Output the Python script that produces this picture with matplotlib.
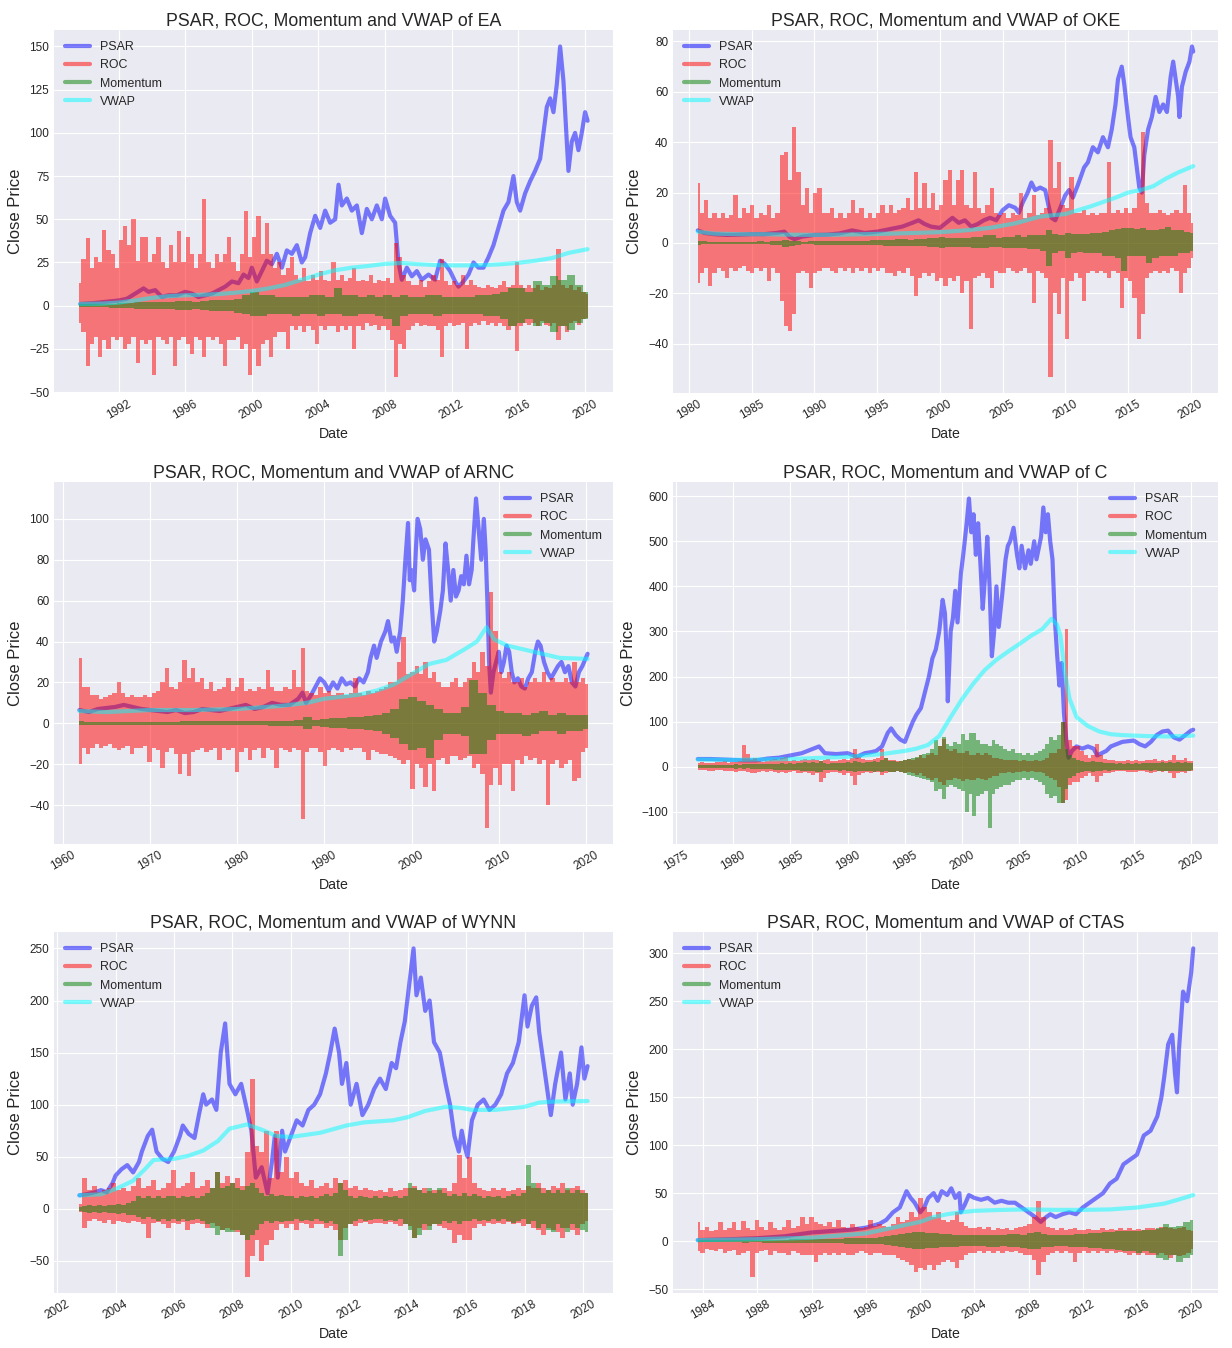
import numpy as np
import matplotlib
matplotlib.use("Agg")
import matplotlib.pyplot as plt
import matplotlib.dates as mdates
from matplotlib import font_manager as fm
from matplotlib.lines import Line2D
from datetime import datetime, timedelta

# ---------------- DATA ----------------
# PSAR / VWAP: (decimal year, value) samples.
# ROC / Momentum: the dense daily lines are stored as their upper and lower
# envelopes, sampled evenly over each ticker's date range.

# ===== EA =====
ea_range = (1989.65, 2020.15)
ea_psar_t = [1989.7, 1990.5, 1991.0, 1991.5, 1992.0, 1992.5, 1993.0, 1993.5, 1993.8, 1994.2, 1994.6, 1995.0, 1995.5, 1996.0, 1996.4, 1996.8, 1997.2, 1997.6, 1998.0, 1998.4, 1998.8, 1999.2, 1999.5, 1999.8, 2000.0, 2000.3, 2000.6, 2000.9, 2001.2, 2001.5, 2001.8, 2002.1, 2002.4, 2002.7, 2003.0, 2003.2, 2003.5, 2003.8, 2004.1, 2004.4, 2004.7, 2005.0, 2005.2, 2005.4, 2005.7, 2006.0, 2006.3, 2006.6, 2006.9, 2007.2, 2007.5, 2007.8, 2008.0, 2008.3, 2008.6, 2008.8, 2009.0, 2009.3, 2009.6, 2009.9, 2010.2, 2010.6, 2011.0, 2011.3, 2011.6, 2011.9, 2012.2, 2012.4, 2012.7, 2013.0, 2013.3, 2013.6, 2013.9, 2014.2, 2014.5, 2014.8, 2015.1, 2015.4, 2015.7, 2015.9, 2016.1, 2016.4, 2016.7, 2017.0, 2017.3, 2017.5, 2017.7, 2017.9, 2018.1, 2018.3, 2018.5, 2018.7, 2018.9, 2019.0, 2019.2, 2019.4, 2019.6, 2019.8, 2020.0, 2020.15]
ea_psar_v = [1, 1.5, 2, 2.5, 3, 4, 7, 10, 8, 9, 5, 6, 6, 8, 7, 5, 6, 7, 9, 11, 14, 13, 18, 16, 22, 14, 20, 26, 24, 30, 22, 32, 30, 35, 25, 28, 42, 52, 45, 55, 48, 50, 70, 58, 62, 55, 58, 42, 56, 50, 58, 50, 62, 52, 48, 25, 15, 22, 17, 20, 15, 18, 15, 26, 24, 20, 14, 11, 14, 18, 25, 22, 22, 28, 35, 45, 55, 60, 75, 60, 55, 65, 72, 78, 85, 100, 115, 120, 112, 128, 150, 130, 95, 78, 95, 100, 90, 100, 112, 107]
ea_vwap_t = [1989.7, 1991, 1992, 1993, 1994, 1995, 1996, 1997, 1998, 1999, 2000, 2001, 2002, 2003, 2004, 2005, 2006, 2007, 2008, 2009, 2010, 2011, 2012, 2013, 2014, 2015, 2016, 2017, 2018, 2019, 2020.15]
ea_vwap_v = [1, 1.2, 1.8, 3, 4.5, 5.5, 6, 6.3, 6.7, 7.5, 8.5, 10, 12, 15, 18, 20.5, 22, 23, 24.2, 24.7, 24, 23.5, 23.3, 23.3, 23.5, 24, 24.8, 26, 27.5, 30.5, 32.7]
ea_roc_hi = [13,
             27, 39, 22, 28, 25, 44, 32, 30, 22, 38, 46, 35, 50, 26, 40, 40, 25, 30, 40, 25,
             22, 35, 25, 43, 25, 40, 30, 22, 30, 62, 25, 22, 30, 25, 30, 40, 25, 20, 30, 55,
             28, 40, 52, 30, 48, 30, 22, 25, 18, 22, 28, 18, 15, 22, 14, 18, 15, 20, 15, 14,
             25, 15, 18, 14, 16, 22, 14, 15, 14, 18, 13, 15, 14, 16, 13, 36, 28, 18, 14, 12,
             12, 15, 11, 14, 18, 15, 27, 14, 12, 14, 12, 18, 12, 15, 12, 11, 10, 12, 11, 10,
             12, 14, 11, 12, 25, 12, 10, 12, 10, 12, 9, 11, 10, 12, 33, 12, 10, 12, 9, 11,
             8, 7]
ea_roc_lo = [-10,
             -15, -35, -22, -18, -30, -20, -25, -18, -20, -18, -25, -22, -18, -33, -20, -22, -20, -40, -18, -20,
             -22, -18, -35, -20, -18, -22, -28, -18, -20, -30, -18, -20, -18, -22, -35, -20, -20, -18, -25, -22,
             -40, -25, -35, -22, -20, -30, -18, -15, -15, -25, -12, -14, -12, -15, -12, -14, -22, -12, -14, -12,
             -12, -15, -12, -14, -12, -25, -12, -14, -10, -12, -11, -14, -12, -14, -20, -41, -22, -25, -14, -12,
             -10, -12, -11, -12, -12, -14, -30, -12, -10, -12, -11, -10, -25, -12, -10, -11, -9, -11, -10, -12,
             -10, -12, -14, -12, -26, -12, -10, -11, -10, -12, -9, -11, -12, -10, -20, -12, -15, -10, -9, -11,
             -8, -7]
ea_mom_hi = [1,
             1, 1, 1, 1.2, 1.5, 1.5, 2, 2, 2, 2, 2, 2.5, 2.5, 2, 2.5, 3, 3, 3, 4, 6,
             8, 6, 6, 5, 5, 5, 5, 6, 6, 5, 10, 6, 6, 5, 6, 5, 6, 5, 6, 5,
             5, 6, 6, 5, 5, 5, 5, 6, 6, 7, 8, 10, 10, 8, 14, 12, 17, 15, 18, 12,
             8]
ea_mom_lo = [-1,
             -1, -1, -1, -1.2, -1.5, -1.5, -2, -2, -2, -2, -2, -2.5, -2.5, -2, -2.5, -3, -3, -3, -4, -5,
             -6, -6, -5, -5, -5, -6, -5, -5, -6, -5, -5, -6, -6, -5, -5, -6, -8, -12, -6, -5,
             -5, -5, -6, -5, -5, -5, -5, -5, -6, -6, -8, -12, -10, -8, -12, -10, -15, -12, -14, -10,
             -8]

# ===== OKE =====
oke_range = (1980.7, 2020.2)
oke_psar_t = [1980.7, 1981.2, 1982, 1983, 1984, 1985, 1986, 1987, 1987.6, 1988, 1988.4, 1989, 1990, 1991, 1992, 1993, 1994, 1995, 1996, 1997, 1997.8, 1998.3, 1998.8, 1999.3, 2000, 2000.5, 2001, 2001.5, 2002, 2002.5, 2003, 2003.5, 2004, 2004.5, 2005, 2005.5, 2006, 2006.3, 2006.6, 2007, 2007.3, 2007.6, 2008, 2008.4, 2008.7, 2008.9, 2009.2, 2009.6, 2010, 2010.3, 2010.6, 2011, 2011.5, 2011.8, 2012.2, 2012.6, 2013, 2013.4, 2013.7, 2014.0, 2014.2, 2014.5, 2014.7, 2015.0, 2015.2, 2015.5, 2015.7, 2015.9, 2016.1, 2016.3, 2016.6, 2016.9, 2017.2, 2017.5, 2017.8, 2018.1, 2018.4, 2018.6, 2018.8, 2019.0, 2019.1, 2019.3, 2019.6, 2019.9, 2020.1, 2020.2]
oke_psar_v = [5, 4, 3.5, 3.2, 3.3, 3.5, 3.5, 4, 4.5, 2.5, 1.5, 2.5, 3.2, 3.3, 3.8, 5, 4, 4.5, 5.5, 6.5, 8, 9, 7.5, 6.5, 6, 8, 10, 8, 9, 6.5, 7.5, 9, 10, 9, 13, 15, 14, 12, 16, 20, 24, 21, 22, 21, 14, 10, 9, 14, 19, 21, 18, 23, 30, 32, 38, 36, 42, 38, 45, 55, 65, 70, 63, 50, 42, 38, 30, 22, 20, 35, 45, 50, 58, 52, 55, 52, 66, 72, 65, 58, 50, 62, 68, 72, 78, 76]
oke_vwap_t = [1980.7, 1982, 1984, 1986, 1988, 1990, 1992, 1994, 1996, 1998, 2000, 2002, 2004, 2006, 2008, 2010, 2012, 2014, 2015, 2016, 2017, 2018, 2019, 2020.2]
oke_vwap_v = [4.5, 3.7, 3.5, 3.5, 3.3, 3.2, 3.3, 3.5, 3.7, 4, 4.3, 5, 6, 7.8, 10.5, 11.5, 14.5, 18, 20, 21, 22.5, 25.5, 28, 30.5]
oke_roc_hi = [24,
              12, 17, 10, 12, 10, 12, 10, 11, 19, 10, 14, 12, 15, 10, 12, 11, 15, 10, 12, 35, 36,
              25, 46, 28, 15, 22, 12, 20, 22, 12, 12, 14, 10, 12, 10, 12, 17, 12, 14, 10, 12, 10,
              12, 15, 12, 15, 12, 13, 14, 18, 13, 28, 14, 24, 14, 20, 13, 15, 25, 29, 15, 25, 29,
              15, 14, 28, 14, 12, 15, 22, 12, 11, 12, 10, 12, 11, 20, 10, 12, 19, 11, 12, 14, 41,
              22, 32, 15, 14, 26, 12, 12, 13, 11, 12, 11, 12, 12, 32, 12, 13, 12, 14, 12, 14, 20,
              44, 16, 12, 12, 13, 12, 11, 12, 13, 12, 23, 12,
              8]
oke_roc_lo = [-16,
              -12, -10, -17, -12, -10, -11, -14, -10, -11, -10, -9, -11, -12, -10, -11, -10, -15, -10, -12, -23, -33,
              -35, -28, -12, -11, -12, -18, -12, -11, -10, -10, -11, -12, -10, -11, -10, -12, -10, -11, -10, -12, -10,
              -11, -10, -12, -12, -13, -11, -12, -10, -13, -21, -14, -12, -13, -12, -15, -14, -17, -14, -15, -13, -20,
              -15, -34, -14, -13, -12, -14, -18, -11, -12, -12, -10, -11, -12, -11, -10, -12, -24, -11, -12, -14, -53,
              -20, -28, -14, -38, -15, -12, -14, -23, -12, -11, -12, -11, -12, -14, -11, -12, -26, -14, -15, -22, -38,
              -28, -14, -12, -11, -12, -11, -12, -10, -11, -20, -12, -10,
              -6]
oke_mom_hi = [0.8,
              0.6, 0.5, 0.5, 0.5, 0.5, 0.4, 0.5, 0.5, 0.5, 0.6, 0.5, 0.6,
              0.8, 1.2, 0.8, 0.6,
              0.5, 0.6, 0.6, 0.7, 0.6, 0.7, 0.8, 0.7, 0.8, 0.9, 0.8, 1.0,
              1.0, 1.2, 1.2, 1.4, 1.5, 1.3, 1.6, 1.5, 1.8, 2.0, 2.5, 2.0, 2.0, 1.8, 2.0, 2.2, 2.5, 3.0,
              3, 2, 2.5, 2.5, 3, 2.5, 3, 3,
              3, 5, 3.5, 3, 4, 3.5, 3.5, 3.5, 4, 4, 4.5, 5, 5.5, 6, 6, 5.5, 6, 5, 5, 5.5, 6.5, 5, 5, 4.5,
              4]
oke_mom_lo = [-0.6,
              -0.5, -0.5, -0.4, -0.5, -0.4, -0.4, -0.5, -0.5, -0.5, -0.5, -0.5, -0.6,
              -0.8, -1.5, -1.2, -0.8,
              -0.5, -0.5, -0.6, -0.6, -0.6, -0.6, -0.7, -0.7, -0.7, -0.8, -0.8, -0.9,
              -0.8, -1.0, -1.0, -1.2, -1.2, -1.0, -1.3, -1.2, -1.5, -1.5, -1.8, -1.5, -1.5, -1.5, -1.6, -1.8, -2.0, -2.0,
              -1.5, -1.5, -2, -2, -2, -2, -2.5, -2.5,
              -3, -9, -4, -3, -6, -4, -3.5, -4, -4, -4, -5, -5, -6, -11, -5, -5, -5, -8, -6, -5, -5, -5, -4, -4,
              -3]

# ===== ARNC =====
arnc_range = (1961.9, 2020.2)
arnc_psar_t = [1961.9, 1963, 1964, 1965, 1966, 1967, 1968, 1969, 1970, 1971, 1972, 1973, 1974, 1975, 1976, 1977, 1978, 1979, 1980, 1981, 1982, 1983, 1984, 1985, 1986, 1987, 1987.5, 1987.9, 1988.5, 1989, 1989.5, 1990, 1990.5, 1991, 1991.5, 1992, 1992.5, 1993, 1993.5, 1994, 1994.5, 1995, 1995.3, 1995.7, 1996, 1996.5, 1997, 1997.3, 1997.7, 1998, 1998.3, 1998.7, 1999, 1999.3, 1999.6, 1999.8, 2000, 2000.3, 2000.5, 2000.7, 2001, 2001.3, 2001.6, 2002, 2002.3, 2002.6, 2002.9, 2003.3, 2003.6, 2003.9, 2004.2, 2004.5, 2004.8, 2005.1, 2005.4, 2005.7, 2006.0, 2006.3, 2006.6, 2006.9, 2007.1, 2007.4, 2007.7, 2008.0, 2008.3, 2008.5, 2008.7, 2008.9, 2009.1, 2009.4, 2009.7, 2010, 2010.3, 2010.6, 2010.9, 2011.2, 2011.5, 2011.8, 2012.2, 2012.6, 2013, 2013.4, 2013.8, 2014.2, 2014.5, 2014.8, 2015.2, 2015.6, 2016, 2016.4, 2016.8, 2017.2, 2017.6, 2018, 2018.4, 2018.8, 2019.2, 2019.6, 2020, 2020.2]
arnc_psar_v = [6.5, 5.5, 7, 7.5, 8, 9, 8, 7, 6.5, 6, 5.5, 6.5, 5, 5.5, 7, 6.5, 6, 7, 8, 9, 7, 8, 10, 9, 9, 12, 15, 10, 14, 18, 22, 20, 16, 20, 17, 22, 19, 20, 18, 22, 20, 25, 32, 38, 32, 40, 45, 50, 40, 42, 35, 45, 60, 80, 98, 70, 75, 65, 85, 100, 95, 80, 90, 85, 60, 40, 45, 55, 65, 88, 75, 60, 75, 62, 65, 72, 68, 82, 68, 75, 90, 110, 95, 80, 100, 85, 60, 30, 15, 25, 30, 35, 25, 30, 38, 35, 25, 20, 22, 18, 17, 22, 25, 35, 40, 38, 30, 25, 22, 25, 28, 30, 25, 28, 20, 18, 25, 28, 32, 34]
arnc_vwap_t = [1961.9, 1965, 1970, 1975, 1980, 1985, 1988, 1990, 1992, 1994, 1996, 1998, 2000, 2002, 2004, 2006, 2007.5, 2008.6, 2009.5, 2011, 2013, 2015, 2017, 2020.2]
arnc_vwap_v = [6, 5.5, 6.5, 6.5, 7, 8.5, 10, 12, 13, 14, 16, 19, 24, 29, 31, 36, 40, 47, 41, 38, 36, 34, 32, 31.5]
arnc_roc_hi = [32, 18, 18, 14, 14, 12, 13, 14, 15, 20, 15, 13, 14, 13, 13, 14, 13, 15, 16, 20,
               27, 18, 17, 20, 31, 22, 27, 20, 22, 17, 20, 16, 17, 18, 22, 16, 18, 22, 16, 17,
               16, 18, 17, 26, 18, 16, 16, 18, 17, 26, 18, 37, 16, 15, 14, 18, 15, 16, 14, 15,
               15, 14, 15, 22, 15, 14, 16, 15, 16, 17, 18, 20, 20, 30, 42, 24, 25, 28, 24, 30,
               22, 25, 20, 18, 18, 20, 22, 18, 20, 22, 30, 25, 35, 28, 64, 45, 25, 22, 25, 20,
               20, 22, 18, 20, 22, 20, 25, 20, 22, 20, 20, 22, 20, 30, 20, 22,
               19]
arnc_roc_lo = [-20, -12, -15, -12, -10, -12, -11, -10, -12, -13, -12, -11, -15, -12, -12, -11, -19, -12, -13, -22,
               -14, -12, -15, -25, -15, -26, -14, -13, -12, -14, -13, -12, -18, -12, -13, -12, -24, -14, -12, -18,
               -13, -12, -17, -12, -13, -22, -12, -13, -14, -12, -13, -47, -14, -12, -12, -14, -21, -13, -12, -13,
               -14, -12, -13, -12, -12, -14, -18, -13, -14, -15, -15, -16, -17, -18, -20, -18, -32, -20, -22, -31,
               -20, -33, -18, -17, -20, -16, -16, -18, -17, -16, -22, -20, -25, -51, -30, -22, -30, -20, -20, -33,
               -18, -20, -16, -18, -17, -20, -18, -40, -20, -18, -22, -20, -18, -28, -27, -14,
               -12]
arnc_mom_hi = [1, 0.8, 0.7, 0.7, 0.8, 0.8, 0.8, 0.8, 0.8, 0.8, 0.8, 0.8, 1, 1, 0.9, 0.9, 0.9, 0.9, 1, 1, 1, 1, 1.2, 1.2, 1.3, 1.5, 3, 1.5,
               2, 2.5, 2.5, 3, 3, 3.5, 4, 5, 7,
               12, 13, 11, 9, 7,
               5, 5, 8,
               21, 15, 9,
               6, 5, 5, 4, 5, 6, 4, 5, 4, 4, 4]
arnc_mom_lo = [-1, -0.8, -0.7, -0.7, -0.8, -0.7, -0.7, -0.8, -0.7, -0.8, -0.8, -0.8, -1, -1, -0.9, -0.9, -0.9, -0.9, -1, -1, -1, -1, -1.2, -1.2, -1.3, -1.5, -3, -1.5,
               -2, -2.5, -2.5, -3, -3, -3.5, -4, -5, -7,
               -10, -13, -12, -17, -8,
               -5, -5, -6,
               -15, -15, -8,
               -5, -5, -5, -6, -5, -4, -4, -5, -4, -4, -3]

# ===== C =====
c_range = (1976.9, 2020.2)
c_psar_t = [1976.9, 1978, 1979, 1980, 1981, 1982, 1983, 1984, 1985, 1986, 1987, 1987.5, 1988, 1989, 1990, 1990.8, 1991.5, 1992, 1992.5, 1993, 1993.5, 1993.8, 1994.2, 1994.6, 1995, 1995.3, 1995.7, 1996, 1996.4, 1996.8, 1997.1, 1997.4, 1997.7, 1998, 1998.3, 1998.5, 1998.65, 1998.75, 1999.0, 1999.2, 1999.4, 1999.6, 1999.9, 2000.1, 2000.4, 2000.6, 2000.8, 2001.0, 2001.2, 2001.4, 2001.6, 2001.8, 2002.0, 2002.2, 2002.4, 2002.6, 2002.8, 2003.0, 2003.2, 2003.5, 2003.8, 2004.0, 2004.2, 2004.5, 2004.8, 2005.0, 2005.2, 2005.5, 2005.8, 2006.0, 2006.3, 2006.5, 2006.9, 2007.1, 2007.3, 2007.5, 2007.7, 2007.9, 2008.1, 2008.3, 2008.5, 2008.7, 2008.9, 2009.1, 2009.3, 2009.6, 2010, 2010.5, 2011, 2011.5, 2011.8, 2012.2, 2012.6, 2013, 2014, 2015, 2015.5, 2016, 2016.5, 2017, 2017.5, 2018, 2018.5, 2019, 2019.5, 2020, 2020.2]
c_psar_v = [17, 17, 16, 15, 14, 14, 18, 20, 25, 30, 40, 45, 30, 28, 30, 22, 30, 32, 35, 45, 75, 85, 70, 60, 55, 75, 100, 115, 130, 170, 200, 240, 260, 300, 370, 340, 250, 145, 300, 330, 390, 320, 430, 470, 540, 595, 520, 560, 470, 540, 450, 350, 420, 510, 400, 245, 300, 400, 310, 380, 460, 490, 500, 530, 470, 440, 490, 440, 480, 450, 500, 460, 510, 575, 520, 560, 500, 460, 330, 250, 180, 230, 120, 60, 20, 35, 45, 40, 45, 40, 25, 30, 35, 45, 55, 58, 50, 45, 55, 70, 78, 80, 65, 60, 70, 80, 82]
c_vwap_t = [1976.9, 1980, 1985, 1990, 1993, 1995, 1996, 1997, 1998, 1999, 2000, 2001, 2002, 2003, 2004, 2005, 2006, 2007, 2007.8, 2008.3, 2008.6, 2009.0, 2009.4, 2010, 2011, 2012, 2013, 2014, 2016, 2018, 2020.2]
c_vwap_v = [16, 15, 17, 22, 28, 35, 40, 48, 68, 110, 150, 185, 215, 237, 255, 272, 290, 305, 328, 315, 290, 205, 150, 110, 90, 78, 72, 70, 68, 67, 69]
c_roc_hi = [8, 10, 8, 9, 8, 10, 10, 12, 9, 10, 11, 12, 47, 28, 15, 20, 12, 10, 12, 15, 18, 15, 20, 22,
            12, 15, 12, 15, 18, 14, 18, 15, 12, 15, 18, 12, 12, 15, 18, 15, 20, 40, 22, 18, 15, 15, 18, 20,
            40, 20, 15, 15, 12, 12, 15, 18, 15, 20, 25, 20, 25, 30, 25, 45, 62, 40, 35, 40, 30, 30, 35, 25,
            25, 30, 25, 30, 25, 20, 20, 18, 15, 15, 14, 15, 12, 14, 12, 12, 15, 12, 15, 20, 30, 30, 40, 100,
            305, 60, 45, 45, 35, 25, 20, 25, 50, 25, 18, 15, 15, 12, 12, 12, 15, 12, 14, 12, 12, 15, 14, 18,
            12, 14, 12, 15, 25, 15, 15, 20, 12,
            12]
c_roc_lo = [-7, -8, -7, -9, -10, -8, -8, -9, -10, -10, -12, -10, -10, -12, -15, -15, -12, -10, -12, -10, -12, -15, -12, -14,
            -12, -10, -14, -15, -12, -14, -18, -15, -33, -25, -15, -12, -12, -15, -18, -15, -20, -40, -18, -15, -12, -15, -12, -12,
            -18, -15, -12, -12, -10, -12, -15, -12, -15, -18, -15, -20, -25, -30, -25, -35, -40, -30, -30, -25, -28, -32, -28, -30,
            -30, -25, -28, -30, -25, -20, -20, -15, -15, -12, -14, -12, -12, -10, -12, -10, -12, -12, -15, -20, -25, -30, -45, -80,
            -75, -40, -35, -35, -25, -20, -15, -20, -35, -20, -15, -15, -12, -10, -10, -10, -12, -12, -12, -10, -10, -12, -14, -12,
            -10, -12, -10, -15, -25, -15, -12, -15, -10,
            -10]
c_mom_hi = [3, 4, 3, 4, 3, 4, 3, 4, 4, 4, 5, 4, 5, 5, 6, 5, 6, 6, 6, 7, 6, 7, 8, 7,
            8, 7, 8, 9, 10, 8, 10, 9, 12, 8, 7, 8, 8, 9, 8, 10, 9, 12, 10, 9, 10, 10, 12, 11,
            15, 20, 12, 12, 10, 12, 15, 18, 20, 22, 25, 28, 30, 40, 60, 45, 65, 50, 45, 55, 50, 72, 60, 75,
            75, 60, 50, 50, 45, 60, 50, 45, 40, 35, 40, 30, 30, 25, 30, 25, 30, 35, 40, 50, 65, 60, 70, 100,
            40, 25, 20, 15, 12, 10, 10, 12, 10, 10, 8, 9, 8, 7, 8, 7, 8, 7, 8, 7, 8, 8, 9, 8,
            9, 10, 9, 10, 9, 10, 9, 10, 9,
            8]
c_mom_lo = [-3, -3, -4, -3, -4, -3, -4, -3, -4, -4, -5, -4, -5, -4, -5, -6, -5, -6, -6, -6, -7, -7, -8, -7,
            -8, -8, -7, -9, -10, -9, -10, -12, -12, -8, -8, -7, -8, -9, -8, -10, -10, -12, -10, -9, -10, -10, -11, -10,
            -12, -10, -12, -12, -10, -12, -15, -18, -20, -22, -25, -28, -30, -35, -55, -50, -72, -45, -40, -45, -50, -55, -100, -60,
            -110, -65, -60, -55, -135, -60, -50, -45, -40, -40, -35, -30, -30, -25, -30, -25, -30, -35, -40, -60, -70, -65, -80, -80,
            -50, -25, -20, -15, -12, -10, -10, -12, -10, -10, -8, -9, -8, -7, -8, -7, -8, -7, -8, -7, -8, -8, -9, -8,
            -9, -10, -9, -10, -9, -10, -9, -10, -9,
            -8]

# ===== WYNN =====
wynn_range = (2002.76, 2020.16)
wynn_psar_t = [2002.76, 2003.0, 2003.3, 2003.5, 2003.7, 2003.9, 2004.0, 2004.2, 2004.4, 2004.6, 2004.8, 2004.9, 2005.1, 2005.25, 2005.4, 2005.6, 2005.8, 2006.0, 2006.2, 2006.3, 2006.5, 2006.7, 2006.85, 2007.0, 2007.1, 2007.3, 2007.45, 2007.6, 2007.75, 2007.9, 2008.1, 2008.3, 2008.5, 2008.65, 2008.8, 2009.0, 2009.2, 2009.35, 2009.45, 2009.55, 2009.7, 2009.8, 2010.0, 2010.2, 2010.4, 2010.6, 2010.8, 2011.0, 2011.2, 2011.35, 2011.5, 2011.65, 2011.75, 2011.9, 2012.05, 2012.25, 2012.45, 2012.65, 2012.85, 2013.05, 2013.25, 2013.45, 2013.6, 2013.75, 2013.9, 2014.05, 2014.2, 2014.3, 2014.45, 2014.6, 2014.75, 2014.9, 2015.1, 2015.3, 2015.45, 2015.6, 2015.75, 2015.85, 2015.95, 2016.05, 2016.2, 2016.4, 2016.6, 2016.8, 2017.0, 2017.2, 2017.4, 2017.6, 2017.8, 2018.0, 2018.1, 2018.25, 2018.4, 2018.5, 2018.65, 2018.8, 2018.9, 2019.05, 2019.25, 2019.4, 2019.55, 2019.65, 2019.8, 2019.95, 2020.05, 2020.16]
wynn_psar_v = [13, 14, 16, 18, 16, 25, 32, 38, 42, 35, 45, 55, 70, 76, 55, 48, 45, 55, 70, 80, 72, 68, 90, 110, 100, 105, 95, 150, 178, 120, 110, 120, 95, 75, 30, 40, 15, 45, 70, 30, 75, 55, 70, 85, 80, 95, 100, 110, 130, 150, 173, 150, 120, 140, 100, 120, 90, 100, 115, 125, 115, 140, 135, 160, 180, 215, 250, 205, 222, 190, 200, 160, 150, 120, 100, 70, 55, 75, 60, 50, 85, 100, 105, 95, 100, 110, 130, 140, 160, 205, 175, 195, 203, 170, 140, 110, 90, 120, 150, 105, 130, 100, 120, 155, 125, 137]
wynn_vwap_t = [2002.76, 2003.5, 2004, 2004.6, 2005.0, 2005.3, 2006, 2006.5, 2007, 2007.5, 2007.9, 2008.5, 2009.0, 2009.5, 2010, 2011, 2011.9, 2012.5, 2013.5, 2014, 2014.6, 2015.3, 2015.8, 2016.2, 2017, 2018, 2018.5, 2019, 2020.16]
wynn_vwap_v = [13, 14, 19, 27, 38, 47, 48, 51, 56, 65, 77, 81, 76, 70, 69, 73, 80, 83, 85, 88, 94, 98, 97, 95, 95, 98, 102, 103, 103.5]
wynn_roc_hi = [5,
               30, 18, 22, 16, 18, 20, 25, 18, 20, 17, 22, 30, 20, 22, 28, 18, 20, 25,
               37, 20, 22, 25, 35, 20, 22, 28, 20, 35, 25, 32, 25, 30, 22, 55, 125, 60,
               55, 75, 30, 75, 35, 50, 30, 35, 25, 22, 28, 20, 22, 25, 20, 30, 25, 28,
               20, 22, 18, 20, 18, 17, 18, 16, 20, 17, 18, 20, 20, 22, 18, 20, 17, 18,
               18, 20, 17, 25, 52, 30, 50, 25, 20, 18, 17, 20, 18, 20, 17, 18, 20, 18,
               22, 20, 25, 20, 18, 22, 20, 25, 18, 20, 22, 18,
               15]
wynn_roc_lo = [-3,
               -18, -12, -10, -12, -14, -11, -15, -12, -13, -14, -12, -13, -15, -28, -14, -13, -15, -18,
               -14, -15, -13, -20, -15, -14, -15, -18, -14, -16, -20, -18, -20, -22, -25, -65, -45, -30,
               -50, -35, -30, -20, -15, -18, -15, -20, -14, -15, -18, -15, -15, -18, -16, -20, -30, -18,
               -15, -16, -14, -13, -15, -14, -14, -15, -13, -15, -16, -15, -16, -28, -18, -20, -16, -15,
               -16, -18, -20, -33, -25, -30, -30, -18, -15, -16, -14, -15, -14, -15, -13, -15, -14, -16,
               -15, -18, -20, -25, -18, -20, -22, -28, -18, -20, -25, -15,
               -12]
wynn_mom_hi = [2,
               3, 4, 3, 4, 3, 4, 4, 5, 4, 6, 8, 12, 10, 12, 10, 12, 10, 12,
               12, 10, 12, 11, 12, 10, 12, 15, 20, 35, 20, 22, 25, 20, 18, 22, 25, 20,
               15, 12, 14, 12, 13, 12, 12, 10, 12, 11, 12, 10, 12, 14, 12, 15, 25, 18,
               12, 10, 12, 11, 10, 12, 10, 12, 11, 12, 10, 12, 25, 20, 18, 15, 20, 15,
               20, 15, 12, 14, 12, 15, 12, 14, 12, 10, 12, 11, 12, 10, 12, 14, 12, 15,
               42, 25, 20, 15, 18, 15, 18, 15, 20, 15, 18, 15,
               15]
wynn_mom_lo = [-2,
               -3, -4, -3, -4, -3, -4, -4, -5, -4, -6, -6, -8, -10, -8, -10, -12, -10, -12,
               -10, -12, -10, -12, -11, -10, -12, -15, -18, -25, -20, -22, -22, -20, -25, -30, -25, -20,
               -15, -12, -14, -12, -13, -12, -12, -10, -12, -11, -12, -10, -12, -14, -12, -15, -45, -30,
               -15, -12, -10, -12, -11, -10, -10, -12, -11, -12, -10, -15, -20, -28, -25, -15, -20, -15,
               -15, -12, -14, -12, -15, -12, -12, -10, -12, -11, -12, -10, -12, -10, -12, -14, -12, -10,
               -15, -12, -18, -15, -20, -22, -15, -18, -22, -15, -18, -20,
               -22]

# ===== CTAS =====
ctas_range = (1983.6, 2020.15)
ctas_psar_t = [1983.6, 1986, 1988, 1990, 1991, 1992, 1993, 1994, 1995, 1996, 1997, 1997.5, 1998, 1998.5, 1999, 1999.3, 1999.6, 2000, 2000.3, 2000.6, 2001, 2001.3, 2001.6, 2002, 2002.3, 2002.6, 2002.9, 2003, 2003.3, 2003.6, 2004, 2004.5, 2005, 2005.5, 2006, 2006.5, 2007, 2007.5, 2008, 2008.5, 2008.9, 2009.3, 2009.6, 2010, 2010.5, 2011, 2011.5, 2012, 2012.5, 2013, 2013.5, 2014, 2014.5, 2015, 2015.5, 2016, 2016.5, 2017, 2017.5, 2017.8, 2018, 2018.3, 2018.6, 2018.8, 2018.95, 2019.1, 2019.4, 2019.7, 2020.0, 2020.15]
ctas_psar_v = [1, 2, 3, 5, 7, 9, 10, 11, 12, 14, 18, 22, 30, 35, 52, 45, 40, 30, 35, 45, 50, 42, 52, 48, 55, 45, 50, 30, 38, 48, 45, 43, 45, 40, 42, 40, 40, 35, 30, 25, 20, 25, 28, 25, 28, 30, 28, 35, 40, 45, 50, 60, 65, 80, 85, 90, 110, 115, 130, 150, 170, 205, 215, 175, 155, 200, 260, 250, 280, 305]
ctas_vwap_t = [1983.6, 1988, 1992, 1996, 1998, 2000, 2001, 2002, 2003, 2004, 2006, 2008, 2010, 2012, 2014, 2016, 2018, 2019, 2020.15]
ctas_vwap_v = [1, 2, 3.5, 8, 14, 20, 25, 28, 30, 31.5, 32.5, 33, 32.5, 32.5, 33, 35, 39, 43, 48]
ctas_roc_hi = [20,
               12, 15, 11, 12, 20, 12, 14, 20, 12, 21, 14, 12, 22, 15, 12, 20, 14, 12,
               15, 22, 14, 16, 25, 18, 25, 20, 18, 16, 20, 15, 22, 15, 14, 18, 15, 14,
               15, 22, 16, 18, 16, 15, 18, 25, 20, 22, 30, 25, 45, 35, 30, 25, 30, 22,
               20, 22, 30, 20, 16, 14, 14, 15, 13, 15, 12, 14, 13, 14, 12, 14, 15, 16,
               18, 25, 42, 25, 15, 14, 12, 14, 12, 13, 14, 12, 12, 13, 12, 12, 14, 12,
               13, 12, 14, 12, 14, 12, 13, 12, 14, 14, 13, 15, 15, 14, 13, 14, 15, 12,
               10]
ctas_roc_lo = [-10,
               -12, -8, -9, -10, -8, -12, -10, -9, -15, -12, -10, -37, -12, -10, -9, -15, -10, -12,
               -12, -15, -10, -12, -15, -14, -15, -22, -15, -12, -14, -12, -14, -12, -15, -15, -12, -10,
               -12, -14, -12, -12, -14, -15, -15, -18, -20, -22, -25, -32, -28, -30, -25, -30, -25, -22,
               -20, -22, -28, -20, -15, -12, -12, -10, -12, -10, -12, -10, -12, -10, -11, -10, -12, -14,
               -15, -20, -35, -22, -15, -12, -10, -12, -10, -12, -22, -12, -10, -12, -10, -12, -10, -12,
               -10, -12, -11, -12, -14, -12, -15, -12, -14, -14, -15, -12, -15, -18, -14, -16, -15, -12,
               -8]
ctas_mom_hi = [1,
               1, 1, 1, 1.2, 1.2, 1.2, 1.5, 1.2, 1.2, 1.5, 1.5, 1.5, 1.5, 2, 2, 2, 2, 2, 2.5, 2.5, 2.5, 3, 3, 3, 3, 3.5,
               4, 5, 6, 7, 8, 9, 9, 8, 8, 7, 7, 6, 6, 6, 6, 6, 6, 6, 6, 7, 7, 6, 8, 9, 7, 6, 6, 6, 6, 7, 7, 8,
               8, 9, 9, 10, 10, 11, 11, 12, 12, 14, 18, 15, 16, 20,
               22]
ctas_mom_lo = [-1,
               -1, -1, -1, -1.2, -1.2, -1.2, -1.5, -1.2, -1.2, -1.5, -1.5, -1.5, -1.5, -2, -2, -2, -2, -2, -2.5, -2.5, -2.5, -3, -3, -3, -3, -3.5,
               -3, -4, -5, -6, -7, -8, -8, -7, -7, -6, -6, -6, -5, -5, -5, -5, -6, -6, -5, -6, -6, -7, -8, -8, -6, -6, -5, -5, -6, -6, -6, -7,
               -7, -8, -8, -9, -10, -10, -12, -10, -12, -18, -20, -15, -22, -18,
               -15]

# ---------------- helpers ----------------
def to_dates(years):
    out = []
    for y in years:
        yi = int(np.floor(y))
        out.append(datetime(yi, 1, 1) + timedelta(days=(y - yi) * 365.25))
    return out

def even_dates(rng, n):
    return to_dates(np.linspace(rng[0], rng[1], n))

def has_font(name):
    try:
        fm.findfont(fm.FontProperties(family=name), fallback_to_default=False)
        return True
    except Exception:
        return False

# ---------------- style ----------------
plt.style.use("seaborn-v0_8-darkgrid")
narrow = has_font("Liberation Sans Narrow")
base_font = "Liberation Sans Narrow" if narrow else "Liberation Sans"
plt.rcParams["font.family"] = [base_font, "DejaVu Sans"]
plt.rcParams["axes.unicode_minus"] = True
k = 1.0 if narrow else 0.85
fs_title = 15 * k
fs_tick = 10 * k
fs_leg = 10.5 * k
fs_lab = 12 * k

panels = [
    ("EA", ea_range, ea_psar_t, ea_psar_v, ea_vwap_t, ea_vwap_v, ea_roc_hi, ea_roc_lo, ea_mom_hi, ea_mom_lo, "upper left", 4),
    ("OKE", oke_range, oke_psar_t, oke_psar_v, oke_vwap_t, oke_vwap_v, oke_roc_hi, oke_roc_lo, oke_mom_hi, oke_mom_lo, "upper left", 5),
    ("ARNC", arnc_range, arnc_psar_t, arnc_psar_v, arnc_vwap_t, arnc_vwap_v, arnc_roc_hi, arnc_roc_lo, arnc_mom_hi, arnc_mom_lo, "upper right", 10),
    ("C", c_range, c_psar_t, c_psar_v, c_vwap_t, c_vwap_v, c_roc_hi, c_roc_lo, c_mom_hi, c_mom_lo, "upper right", 5),
    ("WYNN", wynn_range, wynn_psar_t, wynn_psar_v, wynn_vwap_t, wynn_vwap_v, wynn_roc_hi, wynn_roc_lo, wynn_mom_hi, wynn_mom_lo, "upper left", 2),
    ("CTAS", ctas_range, ctas_psar_t, ctas_psar_v, ctas_vwap_t, ctas_vwap_v, ctas_roc_hi, ctas_roc_lo, ctas_mom_hi, ctas_mom_lo, "upper left", 4),
]

W, H = 1232, 1348
fig = plt.figure(figsize=(W / 100, H / 100), dpi=100)
cols = [(54, 613), (673, 1218)]
rows = [(30, 393), (482, 844), (932, 1293)]

LW, AL = 3, 0.5
handles = [Line2D([], [], color="blue", lw=LW, alpha=AL),
           Line2D([], [], color="red", lw=LW, alpha=AL),
           Line2D([], [], color="green", lw=LW, alpha=AL),
           Line2D([], [], color="cyan", lw=LW, alpha=AL)]
labels = ["PSAR", "ROC", "Momentum", "VWAP"]

for i, (tk, rng, pt, pv, vt, vv, rhi, rlo, mhi, mlo, loc, step) in enumerate(panels):
    c = cols[i % 2]
    r = rows[i // 2]
    ax = fig.add_axes([c[0] / W, 1 - r[1] / H, (c[1] - c[0]) / W, (r[1] - r[0]) / H])
    ax.plot(to_dates(pt), pv, color="blue", lw=LW, alpha=AL, zorder=2)
    td = even_dates(rng, len(rhi))
    ax.fill_between(td, rlo, rhi, step="mid", color="red", alpha=AL, lw=0, zorder=3)
    tm = even_dates(rng, len(mhi))
    ax.fill_between(tm, mlo, mhi, step="mid", color="green", alpha=AL, lw=0, zorder=4)
    ax.plot(to_dates(vt), vv, color="cyan", lw=LW, alpha=AL, zorder=5)
    ax.xaxis.set_major_locator(mdates.YearLocator(step))
    ax.xaxis.set_major_formatter(mdates.DateFormatter("%Y"))
    ax.tick_params(axis="x", labelrotation=30, labelsize=fs_tick)
    ax.tick_params(axis="y", labelsize=fs_tick)
    ax.set_title(f"PSAR, ROC, Momentum and VWAP of {tk}", fontsize=fs_title, pad=2)
    ax.set_xlabel("Date", fontsize=fs_lab)
    ax.set_ylabel("Close Price", fontsize=12, family=["Liberation Sans", "DejaVu Sans"])
    ax.legend(handles, labels, loc=loc, fontsize=fs_leg)

fig.savefig("out.png", dpi=100)
